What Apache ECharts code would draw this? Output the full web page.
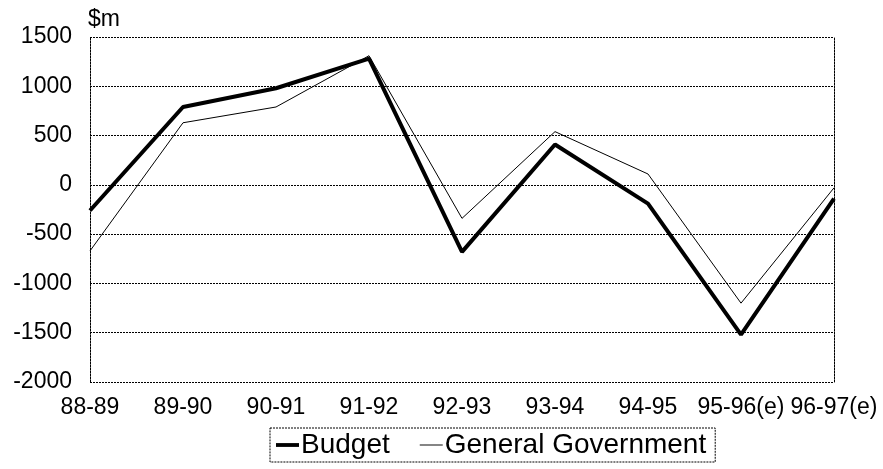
<!DOCTYPE html>
<html>
<head>
<meta charset="utf-8">
<script src="https://cdn.jsdelivr.net/npm/echarts@6/dist/echarts.min.js"></script>
<style>
  html, body { margin: 0; padding: 0; background: #fff; }
  #main { width: 883px; height: 469px; }
</style>
</head>
<body>
<div id="main"></div>
<script>
// data
var years = ['88-89', '89-90', '90-91', '91-92', '92-93', '93-94', '94-95', '95-96(e)', '96-97(e)'];
var budget = [-260, 790, 980, 1280, -680, 410, -190, -1520, -140];
var generalGov = [-670, 630, 790, 1310, -340, 540, 110, -1200, -30];
var yTicks = { min: -2000, max: 1500, step: 500 };

var font = 'Liberation Sans, Arial, sans-serif';
var dotted = { color: '#000', width: 1, type: [2, 1] };

var chart = echarts.init(document.getElementById('main'));

var option = {
  animation: false,
  backgroundColor: '#fff',
  textStyle: { fontFamily: font, color: '#000' },
  grid: { left: 90, right: 49, top: 37, bottom: 87, containLabel: false },
  legend: {
    data: [
      { name: 'Budget', icon: 'path://M0,0h24v4h-24z' },
      { name: 'General Government', icon: 'path://M0,0h24v1h-24z' }
    ],
    left: 270,
    top: 428,
    padding: [3, 9, 3, 6],
    itemGap: 30,
    itemWidth: 23,
    itemHeight: 14,
    borderColor: '#000',
    borderWidth: 1,
    borderType: [2, 1],
    itemStyle: { color: '#000' },
    textStyle: { fontSize: 28, fontFamily: font, color: '#000', padding: [0, 0, 0, -3] }
  },
  xAxis: {
    type: 'category',
    data: years,
    boundaryGap: false,
    axisLine: { show: false },
    axisTick: { show: false },
    splitLine: { show: false },
    axisLabel: { fontSize: 23, fontFamily: font, color: '#000', margin: 14, interval: 0 }
  },
  yAxis: [{
    type: 'value',
    min: yTicks.min,
    max: yTicks.max,
    interval: yTicks.step,
    name: '$m',
    nameLocation: 'end',
    nameGap: 6,
    nameTextStyle: { fontSize: 23, fontFamily: font, color: '#000', align: 'left', padding: [0, 0, 0, -2] },
    axisLine: { show: true, lineStyle: dotted },
    axisTick: { show: false },
    axisLabel: { fontSize: 23, fontFamily: font, color: '#000', margin: 18, formatter: function (v) { return String(v); } },
    splitLine: { show: true, lineStyle: dotted }
  }, {
    type: 'value',
    position: 'right',
    min: yTicks.min,
    max: yTicks.max,
    interval: yTicks.step,
    axisLine: { show: true, lineStyle: dotted },
    axisTick: { show: false },
    axisLabel: { show: false },
    splitLine: { show: false }
  }],
  series: [{
    name: 'Budget',
    type: 'line',
    data: budget,
    symbol: 'none',
    lineStyle: { color: '#000', width: 4 },
    itemStyle: { color: '#000' },
    z: 3
  }, {
    name: 'General Government',
    type: 'line',
    data: generalGov,
    symbol: 'none',
    lineStyle: { color: '#000', width: 1 },
    itemStyle: { color: '#000' },
    z: 2
  }]
};

chart.setOption(option);
</script>
</body>
</html>
